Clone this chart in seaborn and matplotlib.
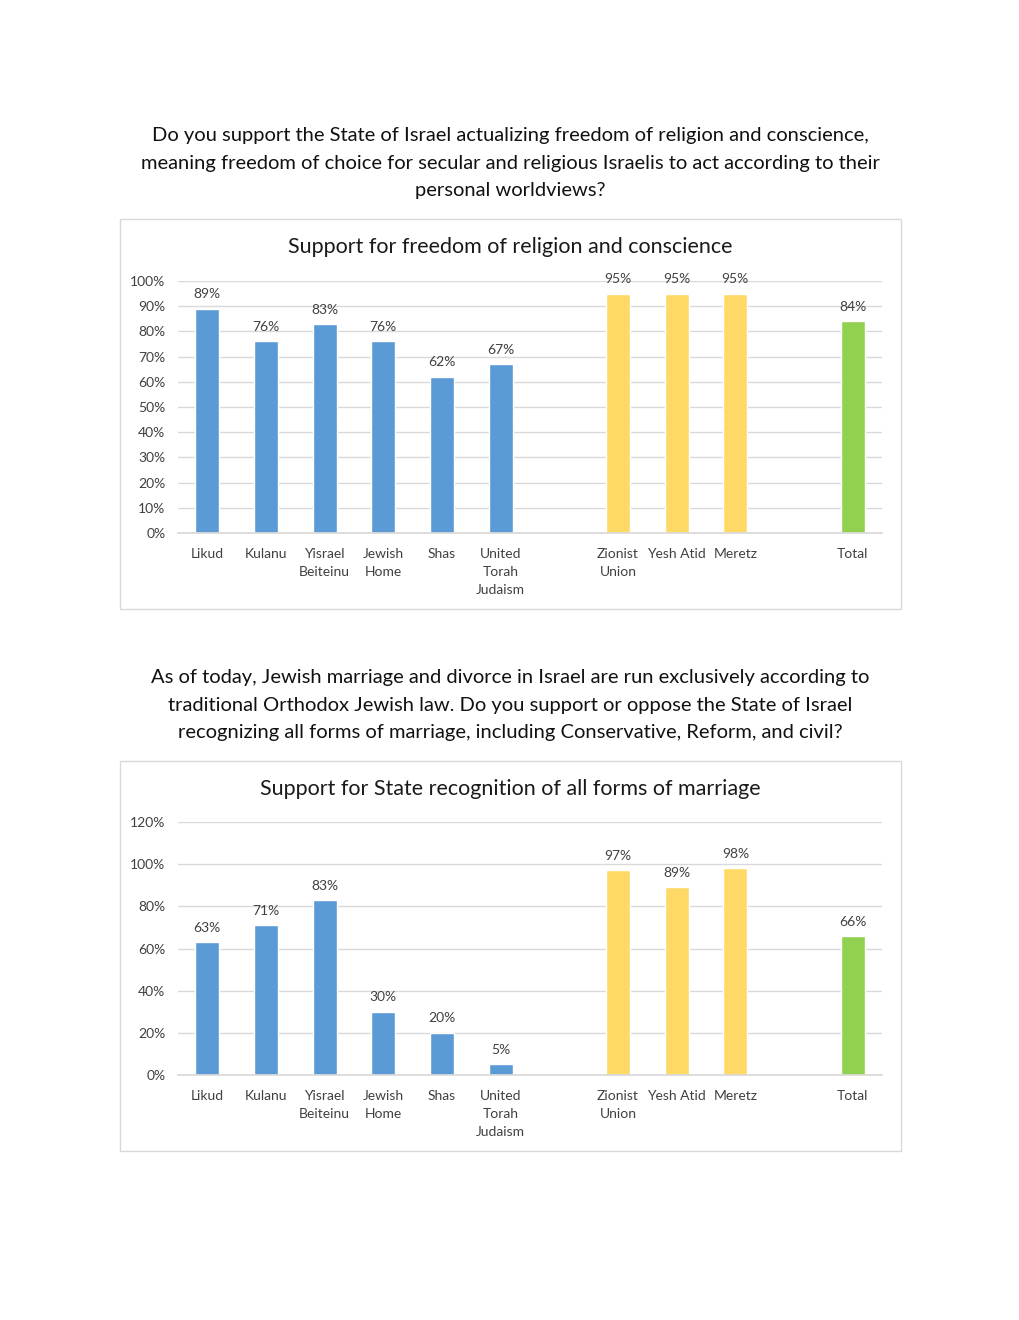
import matplotlib
matplotlib.use("Agg")
import matplotlib.pyplot as plt
import matplotlib.patches as mpatches
import pandas as pd
import seaborn as sns

parties = ["Likud", "Kulanu", "Yisrael\nBeiteinu", "Jewish\nHome", "Shas",
           "United\nTorah\nJudaism", "Zionist\nUnion", "Yesh Atid", "Meretz", "Total"]
groups = ["right"] * 6 + ["left"] * 3 + ["total"]
freedom = [0.89, 0.76, 0.83, 0.76, 0.62, 0.67, 0.95, 0.95, 0.95, 0.84]
marriage = [0.63, 0.71, 0.83, 0.30, 0.20, 0.05, 0.97, 0.89, 0.98, 0.66]

# empty slots between the blocs
order = parties[:6] + [" "] + parties[6:9] + ["  "] + parties[9:]
colors = {"right": "#5B9BD5", "left": "#FFD966", "total": "#92D050"}

q1 = ("Do you support the State of Israel actualizing freedom of religion and conscience,\n"
      "meaning freedom of choice for secular and religious Israelis to act according to their\n"
      "personal worldviews?")
q2 = ("As of today, Jewish marriage and divorce in Israel are run exclusively according to\n"
      "traditional Orthodox Jewish law. Do you support or oppose the State of Israel\n"
      "recognizing all forms of marriage, including Conservative, Reform, and civil?")

sns.set_theme(style="white")
plt.rcParams["font.family"] = ["Lato", "DejaVu Sans"]

W, H = 1020, 1320
fig = plt.figure(figsize=(W / 100, H / 100), dpi=100)


def px_rect(x0, y0, x1, y1):
    return [x0 / W, 1 - y1 / H, (x1 - x0) / W, (y1 - y0) / H]


def draw_chart(values, ymax, step, box, ax_px, title, title_y, question, q_y):
    df = pd.DataFrame({"party": parties, "group": groups, "value": values})
    b = box
    fig.patches.append(mpatches.Rectangle((b[0] / W, 1 - b[3] / H), (b[2] - b[0]) / W,
                                          (b[3] - b[1]) / H, transform=fig.transFigure,
                                          fill=False, edgecolor="#D9D9D9", lw=1))
    fig.text(0.5, 1 - q_y / H, question, ha="center", va="center", fontsize=14.5,
             color="#111111", linespacing=1.75)
    fig.text(0.5, 1 - title_y / H, title, ha="center", va="center", fontsize=15.5,
             color="#1a1a1a")
    ax = fig.add_axes(px_rect(*ax_px))
    sns.barplot(data=df, x="party", y="value", hue="group", palette=colors, order=order,
                width=0.41, legend=False, ax=ax, saturation=1)
    for c in ax.containers:
        ax.bar_label(c, labels=[f"{v * 100:.0f}%" for v in c.datavalues], padding=6,
                     fontsize=10, color="#404040")
    ax.set_ylim(0, ymax)
    ticks = [i * step for i in range(int(round(ymax / step)) + 1)]
    ax.set_yticks(ticks)
    ax.set_yticklabels([f"{t * 100:.0f}%" for t in ticks])
    ax.set_xlim(-0.5, len(order) - 0.5)
    ax.set_xlabel("")
    ax.set_ylabel("")
    ax.grid(axis="y", color="#D9D9D9", lw=1)
    ax.set_axisbelow(True)
    for s in ["left", "right", "top"]:
        ax.spines[s].set_visible(False)
    ax.spines["bottom"].set_color("#D9D9D9")
    ax.tick_params(axis="both", length=0, labelsize=10, labelcolor="#404040")
    ax.tick_params(axis="x", pad=11)
    ax.tick_params(axis="y", pad=9)
    for lab in ax.get_xticklabels():
        lab.set_verticalalignment("top")
        lab.set_linespacing(1.6)


draw_chart(freedom, 1.0, 0.1, (120, 219, 901, 609), (178, 281, 882, 533),
           "Support for freedom of religion and conscience", 247, q1, 163)
draw_chart(marriage, 1.2, 0.2, (120, 761, 901, 1151), (178, 822, 882, 1075),
           "Support for State recognition of all forms of marriage", 789, q2, 705)

fig.savefig("out.png", dpi=100, facecolor="white")
